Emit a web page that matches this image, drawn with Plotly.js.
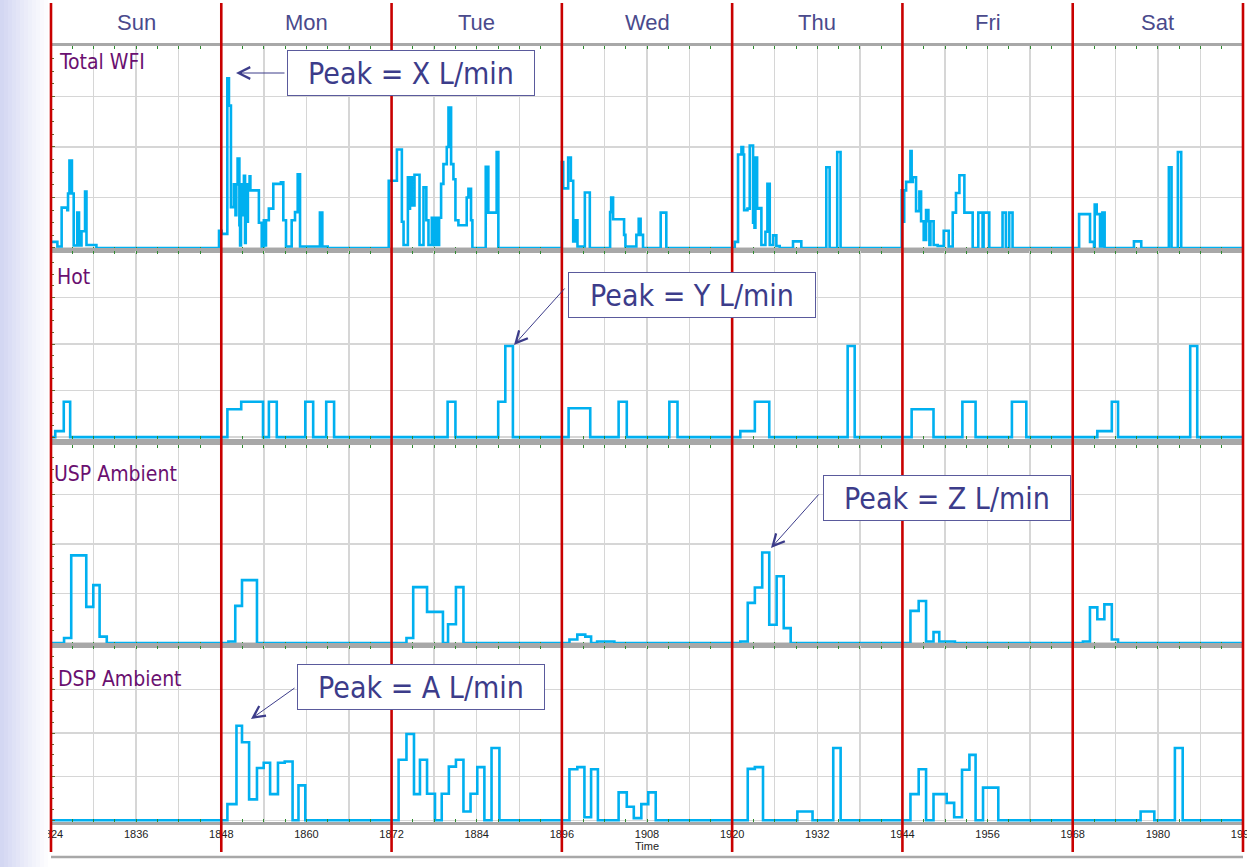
<!DOCTYPE html>
<html><head><meta charset="utf-8">
<script src="https://cdn.plot.ly/plotly-3.0.1.min.js"></script>
<style>html,body{margin:0;padding:0;background:#fff;overflow:hidden}#chart{width:1247px;height:867px}</style>
</head><body><div id="chart"></div>
<script>
// ---------------- data ----------------
const days = ['Sun','Mon','Tue','Wed','Thu','Fri','Sat'];
const dayStarts = [1824,1848,1872,1896,1920,1944,1968,1992];
const panelNames = ['Total WFI','Hot','USP Ambient','DSP Ambient'];
const peakLabels = ['Peak = X L/min','Peak = Y L/min','Peak = Z L/min','Peak = A L/min'];
const tickHours = [1824,1830,1836,1842,1848,1854,1860,1866,1872,1878,1884,1890,1896,1902,1908,1914,1920,1926,1932,1938,1944,1950,1956,1962,1968,1974,1980,1986,1992];
const tickLabels = ['1824','','1836','','1848','','1860','','1872','','1884','','1896','','1908','','1920','','1932','','1944','','1956','','1968','','1980','','1992'];
const axisTitle = 'Time';

const wfiHours = [1824.0,1824.9,1825.5,1826.3,1826.4,1826.6,1826.95,1827.2,1827.7,1827.95,1828.3,1828.8,1829.0,1830.4,
 1847.68,1848.05,1848.85,1849.08,1849.36,1849.78,1850.0,1850.12,1850.3,1850.55,1850.65,1850.78,1851.0,1851.19,1851.35,1851.45,1851.6,1851.75,1851.99,1852.1,1852.6,1853.3,1853.7,1854.0,1854.2,1854.3,1854.7,1855.33,1856.4,1856.74,1857.12,1857.92,1858.39,1858.77,1859.1,1861.9,1862.24,1863.0,
 1871.6,1872.75,1873.45,1873.69,1874.3,1874.5,1874.6,1874.86,1875.23,1875.94,1876.5,1876.9,1877.2,1877.67,1877.8,1877.9,1878.2,1878.3,1878.6,1878.7,1878.98,1879.31,1879.78,1880.02,1880.39,1880.72,1881.0,1881.42,1882.59,1882.83,1883.2,1883.39,1885.27,1885.64,1886.81,1887.05,
 1896.0,1896.19,1896.89,1897.27,1897.6,1897.92,1898.2,1899.24,1899.94,1902.8,1902.95,1903.22,1904.77,1904.96,1906.5,1906.83,1907.1,1907.44,1909.93,1910.72,
 1920.37,1920.83,1921.31,1921.55,1921.69,1922.16,1922.48,1922.95,1923.05,1923.15,1923.28,1923.52,1923.89,1924.12,1924.69,1924.97,1925.3,1925.77,1926.23,1926.7,1928.58,1929.75,1933.27,1933.74,1934.81,1935.28,
 1943.9,1944.1,1944.25,1944.52,1945.13,1945.3,1945.46,1945.92,1946.39,1946.63,1947.0,1947.33,1947.66,1947.8,1947.95,1948.27,1948.4,1948.97,1949.82,1950.52,1951.09,1951.55,1952.03,1952.73,1953.9,1954.69,1955.3,1955.44,1956.24,1958.11,1958.58,1959.05,1959.52,
 1968.9,1970.44,1971.0,1971.1,1971.38,1971.85,1972.18,1972.5,1976.63,1977.66,1981.55,1981.93,1982.82,1983.29,1992];
const wfiFlow = [0.12,0.03,0.8,0.75,1.08,1.73,1.08,0.05,0.7,0.05,0.33,1.12,0.06,0,
 0.34,0.28,3.36,2.82,0.81,1.26,0.65,1.26,1.77,0.45,0.05,1.26,0.65,1.43,0.1,1.26,0.52,1.26,1.42,1.14,1.14,0.5,0.03,0.55,0.05,0.55,0.78,1.27,1.3,0.55,0.03,0.55,0.71,1.46,0.03,0.7,0.03,0,
 1.33,1.95,0.52,0.06,1.4,0.78,1.4,0.84,1.45,0.06,1.2,0.55,0.06,0.6,0.06,0.6,0.06,0.6,0.06,0.6,1.27,1.66,2.0,2.78,1.66,1.36,0.55,0.45,1.0,1.17,0.55,0,1.61,0.7,1.9,0,
 1.7,1.18,1.79,1.33,0.13,0.55,0.03,1.1,0,0.71,1.0,0.57,0.26,0.03,0.26,0.58,0.26,0,0.7,0,
 0.12,1.85,2.0,1.85,0.75,0.78,2.03,0.5,1.3,0.4,1.79,0.78,0.79,0.06,0.32,1.27,0.06,0.25,0.04,0,0.13,0,1.6,0,1.9,0,
 1.14,0.52,1.14,1.31,1.92,1.31,1.4,0.73,1.12,0.53,0.16,0.75,0.53,0.06,0.53,0.53,0.06,0.04,0.34,0.03,0.7,1.09,1.44,0.7,0,0.7,0,0.7,0,0.7,0,0.7,0,
 0.67,0.12,0.02,0.86,0.67,0.03,0.7,0,0.13,0,1.6,0,1.9,0,0];

const hotHours = [1824,1824.6,1825.8,1826.7,1848.86,1850.81,1853.88,1854.71,1855.82,1859.84,1860.95,1862.79,1863.9,1879.9,1881.0,1887.03,1888.03,1889.1,1896.95,1900.0,1904.0,1905.15,1911.15,1912.3,1921.15,1923.2,1925.23,1936.28,1937.27,1945.3,1948.38,1952.45,1954.31,1959.43,1961.46,1971.47,1973.51,1974.39,1984.56,1985.55,1992];
const hotFlow = [0,0.13,0.76,0,0.6,0.76,0,0.76,0,0.76,0,0.76,0,0.76,0,0.76,1.96,0,0.62,0,0.76,0,0.76,0,0.13,0.76,0,1.96,0,0.6,0,0.76,0,0.76,0,0.13,0.76,0,1.96,0,0];

const uspHours = [1824,1825.84,1826.85,1828.97,1829.96,1830.85,1831.86,1849.0,1849.97,1850.92,1853.03,1874.1,1875.05,1877.0,1879.24,1879.96,1881.07,1882.13,1897.07,1898.18,1899.3,1900.12,1900.97,1903.4,1921.15,1922.2,1923.2,1924.24,1925.23,1926.27,1927.27,1928.25,1945.13,1946.29,1947.33,1948.38,1949.19,1951.4,1969.44,1970.43,1971.47,1972.46,1973.51,1974.39,1992];
const uspFlow = [0,0.1,1.77,0.73,1.17,0.13,0,0.03,0.75,1.27,0,0.1,1.13,0.63,0,0.38,1.13,0,0.07,0.17,0.13,0,0.03,0,0.03,0.81,1.12,1.83,0.37,1.35,0.3,0,0.65,0.85,0.03,0.22,0.03,0,0.03,0.72,0.48,0.78,0.07,0,0];

const dspHours = [1824,1848.86,1850.14,1850.92,1851.92,1853.03,1853.98,1854.88,1855.99,1856.94,1858.05,1858.88,1859.84,1872.99,1874.1,1875.16,1876.0,1877.0,1878.12,1879.07,1880.07,1881.07,1882.13,1883.13,1884.08,1885.08,1886.09,1887.2,1897.07,1898.18,1899.18,1900.12,1901.08,1904.0,1905.15,1906.14,1907.2,1908.18,1909.23,1922.2,1923.2,1924.35,1929.19,1931.33,1934.25,1935.29,1945.13,1946.29,1947.33,1948.38,1950.24,1951.29,1952.4,1953.44,1954.31,1955.36,1957.51,1977.57,1979.5,1982.4,1983.5,1992];
const dspFlow = [0,0.37,2.17,1.79,0.48,1.2,1.32,0.6,1.32,1.35,0,0.8,0,1.39,1.98,0.6,1.39,0.61,0,0.61,1.23,1.39,0.2,0.61,1.22,0,1.66,0,1.17,1.22,0.07,1.17,0,0.64,0.31,0.05,0.37,0.64,0,1.18,1.22,0,0.2,0,1.66,0,0.6,1.17,0,0.6,0.4,0.07,1.16,1.5,0,0.75,0,0.2,0,1.66,0,0];

// ---------------- layout helpers (pixels) ----------------
const W = 1247, H = 867, L = 51, R = 1243, T = 46, B = 822;
const X0 = 1824, X1 = 1992;
const px = x => (x - L) / (R - L);
const py = y => (B - y) / (B - T);
const hx = h => (h - X0) / (X1 - X0);          // axis value -> paper fraction
const panelPix = [[46,250],[251,439],[445,645],[646,822]];
const blue = '#00b0f0';
const gridC = '#d6d6d6';

const series = [[wfiHours,wfiFlow],[hotHours,hotFlow],[uspHours,uspFlow],[dspHours,dspFlow]];
const traces = series.map((s,i) => ({
  x: s[0], y: s[1], type:'scatter', mode:'lines',
  line:{shape:'hv', color: blue, width: 2.6},
  xaxis: i===0?'x':'x'+(i+1), yaxis: i===0?'y':'y'+(i+1),
  hoverinfo:'x+y', showlegend:false
}));

const layout = {
  width: W, height: H,
  margin: {l: L, r: W - R, t: T, b: H - B},
  paper_bgcolor: '#ffffff', plot_bgcolor: '#ffffff',
  showlegend: false,
  font: {family: 'Liberation Sans, Arial, sans-serif', color: '#222'},
  shapes: [], annotations: []
};

for (let i = 0; i < 4; i++) {
  const xs = i===0?'xaxis':'xaxis'+(i+1);
  const ys = i===0?'yaxis':'yaxis'+(i+1);
  const yid = i===0?'y':'y'+(i+1);
  const xid = i===0?'x':'x'+(i+1);
  layout[xs] = {
    range: [X0, X1], anchor: yid, matches: i===0?undefined:'x',
    tickmode: 'array', tickvals: tickHours, ticktext: tickLabels,
    showgrid: true, gridcolor: gridC, gridwidth: 1.5,
    showline: true, linecolor: '#a8a8a8', linewidth: 3, mirror: 'ticks',
    ticks: 'inside', ticklen: 3, tickcolor: '#2e8b2e', tickwidth: 1,
    minor: {dtick: 3, tick0: X0, ticks: 'inside', ticklen: 3, tickcolor: '#2e8b2e', showgrid: false},
    zeroline: false, showticklabels: i === 3, ticklabeloverflow: 'allow',
    tickfont: {family: 'Liberation Sans, Arial, sans-serif', size: 11, color: '#222'},
    fixedrange: true
  };
  if (i === 3) layout[xs].title = {text: axisTitle, font: {size: 11, color: '#222'}, standoff: 2};
  layout[ys] = {
    domain: [py(panelPix[i][1]), py(panelPix[i][0])], anchor: xid,
    range: [-0.04, 4], tickmode: 'linear', tick0: 0, dtick: 1,
    showgrid: true, gridcolor: gridC, gridwidth: 1.5,
    showticklabels: false, zeroline: false, showline: false,
    ticks: 'inside', ticklen: 4, tickcolor: '#5a6b2f',
    minor: {dtick: 0.25, ticks: 'inside', ticklen: 3, tickcolor: '#5a6b2f', showgrid: false},
    fixedrange: true
  };
  layout.annotations.push({
    text: panelNames[i], xref: 'paper', yref: 'paper',
    x: px([57,55,52,56][i]), y: py([62,277,474,679][i]), xanchor: 'left', yanchor: 'middle',
    showarrow: false, font: {family: 'DejaVu Sans Condensed, DejaVu Sans, sans-serif', size: 21, color: '#6a1070'}
  });
}

// left slide strip (gradient in bands)
const stripCols = ['#d3d7f2','#d7daf3','#dbdef5','#dfe2f6','#e3e5f7','#e7e9f8','#ebecf9','#eef0fa','#f2f3fb','#f5f6fc','#f9f9fd','#fcfcfe'];
stripCols.forEach((c, k) => {
  layout.shapes.push({type:'rect', xref:'paper', yref:'paper', layer:'above',
    x0: px(k*4), x1: px(k*4+4.2), y0: py(H), y1: py(0), fillcolor: c, line:{width:0}});
});

// bottom frame line
layout.shapes.push({type:'line', xref:'paper', yref:'paper', layer:'above',
  x0: px(L), x1: px(R), y0: py(857), y1: py(857), line:{color:'#a8a8a8', width:2.5}});

// red day separators
dayStarts.forEach(d => {
  layout.shapes.push({type:'line', xref:'paper', yref:'paper', layer:'above',
    x0: hx(d), x1: hx(d), y0: py(852), y1: py(3), line:{color:'#c80000', width:2.6}});
});

// day names
days.forEach((d, k) => {
  layout.annotations.push({text: d, xref:'x', yref:'paper', x: dayStarts[k] + 12, y: py(22),
    xanchor:'center', yanchor:'middle',
    showarrow:false, font:{family:'Liberation Sans, Arial, sans-serif', size:22, color:'#4a4a8c'}});
});

// peak call-out boxes and arrows
const boxPix = [[411,73.5],[691.5,295],[946.5,498],[421,687]];
const tailOff = [[50,0],[52,-58],[49,-55],[45,-32]];
const headPix = [[236,73],[514,345],[771,548],[251,719]];
peakLabels.forEach((t, k) => {
  layout.annotations.push({text: t, xref:'paper', yref:'paper', x: px(boxPix[k][0]), y: py(boxPix[k][1]),
    xanchor:'center', yanchor:'middle', showarrow:false, width: 246, height: 44,
    bgcolor:'#ffffff', bordercolor:'#5a5a9c', borderwidth:1, borderpad:0,
    font:{family:'DejaVu Sans Condensed, DejaVu Sans, sans-serif', size:30, color:'#3c3c8a'}});
  layout.annotations.push({text:'', xref:'paper', yref:'paper', x: px(headPix[k][0]), y: py(headPix[k][1]),
    ax: tailOff[k][0], ay: tailOff[k][1], showarrow:true, arrowhead:5, arrowsize:2.3, arrowwidth:1,
    arrowcolor:'#3c3c8a', standoff:0});
});

Plotly.newPlot('chart', traces, layout, {staticPlot: true, displayModeBar: false});
</script></body></html>
